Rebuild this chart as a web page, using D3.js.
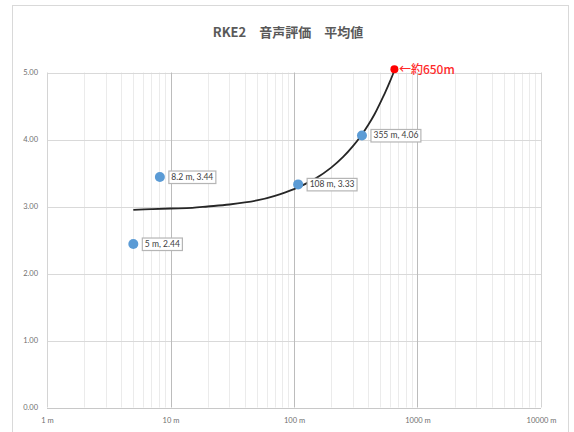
<!DOCTYPE html>
<html><head><meta charset="utf-8">
<script src="https://cdn.jsdelivr.net/npm/d3@7"></script>
<style>body{margin:0;background:#fff}svg{display:block}</style>
</head><body>
<script>
const title = "RKE2\u3000音声評価\u3000平均値";
const distances = [5, 8.2, 108, 355];
const scores = [2.44, 3.44, 3.33, 4.06];
const pointLabels = ["5 m, 2.44", "8.2 m, 3.44", "108 m, 3.33", "355 m, 4.06"];
const trendX = [5, 7, 10, 15, 20, 30, 50, 70, 100, 150, 200, 250, 300, 350, 400, 450, 500, 550, 600, 650];
const trendY = [2.95, 2.96, 2.97, 2.98, 3.00, 3.03, 3.09, 3.16, 3.26, 3.42, 3.58, 3.74, 3.90, 4.06, 4.22, 4.38, 4.55, 4.71, 4.87, 5.03];
const limitX = [650];
const limitY = [5.05];
const limitLabel = "←約650m";
const xTicks = [1, 10, 100, 1000, 10000];
const xTickLabels = ["1 m", "10 m", "100 m", "1000 m", "10000 m"];
const yTicks = [0, 1, 2, 3, 4, 5];

const W = 574, H = 432;
const svg = d3.select("body").append("svg").attr("width", W).attr("height", H);
svg.append("rect").attr("x", 12.5).attr("y", 5.5).attr("width", 556).attr("height", 440)
  .attr("fill", "#fff").attr("stroke", "#d9d9d9");

const x = d3.scaleLog().domain([1, 10000]).range([47, 541]);
const y = d3.scaleLinear().domain([0, 5]).range([407.5, 72.5]);

svg.append("text").attr("x", 288).attr("y", 37).attr("text-anchor", "middle")
  .attr("font-family", "'Noto Sans CJK JP', 'Noto Sans', sans-serif").attr("font-weight", "bold")
  .attr("font-size", 13).attr("fill", "#595959").text(title);

// minor vertical grid
const minor = [];
for (let d = 1; d < 10000; d *= 10) for (let k = 2; k <= 9; k++) minor.push(d * k);
svg.append("g").selectAll("line").data(minor).join("line")
  .attr("x1", d => Math.round(x(d)) + 0.5).attr("x2", d => Math.round(x(d)) + 0.5)
  .attr("y1", y(5)).attr("y2", y(0)).attr("stroke", "#ebebeb");
// horizontal grid
svg.append("g").selectAll("line").data(yTicks).join("line")
  .attr("x1", x(1)).attr("x2", x(10000))
  .attr("y1", d => Math.round(y(d)) + 0.5).attr("y2", d => Math.round(y(d)) + 0.5)
  .attr("stroke", d => d === 0 ? "#c8c8c8" : "#d9d9d9");
// major vertical grid
svg.append("g").selectAll("line").data(xTicks).join("line")
  .attr("x1", d => Math.round(x(d)) + 0.5).attr("x2", d => Math.round(x(d)) + 0.5)
  .attr("y1", y(5)).attr("y2", y(0)).attr("stroke", (d, i) => (i === 0 || i === 4) ? "#d4d4d4" : "#bcbcbc");

// axes labels via d3 axes
const yAxis = d3.axisLeft(y).tickValues(yTicks).tickFormat(d3.format(".2f")).tickSize(0).tickPadding(9);
const gy = svg.append("g").attr("transform", `translate(${x(1)},0)`).call(yAxis);
gy.select(".domain").remove();
gy.selectAll("text").attr("font-family", "Lato, sans-serif").attr("font-size", 7.5).attr("fill", "#6f6f6f");

const xAxis = d3.axisBottom(x).tickValues(xTicks).tickFormat((d, i) => xTickLabels[i]).tickSize(0).tickPadding(10);
const gx = svg.append("g").attr("transform", `translate(0,${y(0)})`).call(xAxis);
gx.select(".domain").remove();
gx.selectAll("text").attr("font-family", "Lato, sans-serif").attr("font-size", 7.5).attr("fill", "#6f6f6f");

// trend line
const trend = trendX.map((d, i) => [d, trendY[i]]);
svg.append("path").datum(trend)
  .attr("d", d3.line().x(d => x(d[0])).y(d => y(d[1])).curve(d3.curveCatmullRom))
  .attr("fill", "none").attr("stroke", "#262626").attr("stroke-width", 1.8);

// points
const pts = distances.map((d, i) => ({d, s: scores[i], label: pointLabels[i]}));
svg.append("g").selectAll("circle").data(pts).join("circle")
  .attr("cx", p => x(p.d)).attr("cy", p => y(p.s)).attr("r", 5).attr("fill", "#5b9bd5");

// labels
const lg = svg.append("g").selectAll("g").data(pts).join("g")
  .attr("transform", p => `translate(${x(p.d) + 8.5},${y(p.s)})`);
lg.append("text").attr("x", 3).attr("y", 3).attr("font-family", "Lato, sans-serif")
  .attr("font-size", 8.5).attr("fill", "#404040").text(p => p.label);
lg.each(function() {
  const g = d3.select(this);
  const bb = g.select("text").node().getBBox();
  g.insert("rect", "text").attr("x", 0.5).attr("y", -6).attr("width", bb.width + 5).attr("height", 12.5)
    .attr("fill", "#fff").attr("stroke", "#b5b5b5").attr("stroke-width", 1.2);
});

// limit point
svg.append("circle").attr("cx", x(limitX[0])).attr("cy", y(limitY[0])).attr("r", 4).attr("fill", "#ff0000");
svg.append("text").attr("x", x(limitX[0]) + 4.5).attr("y", y(limitY[0]) + 4.5)
  .attr("font-family", "'Noto Sans CJK JP', sans-serif").attr("font-weight", 500).attr("font-size", 12).attr("fill", "#ff2a2a")
  .text(limitLabel);
</script>
</body></html>
